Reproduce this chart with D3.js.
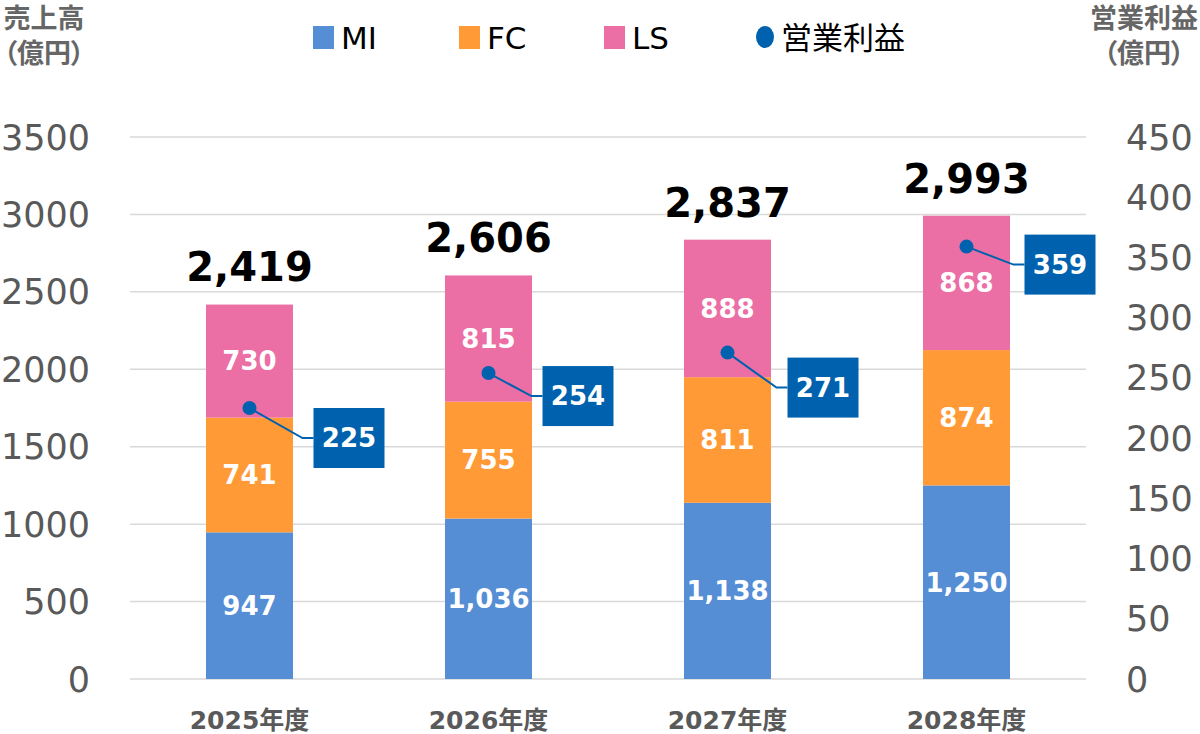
<!DOCTYPE html>
<html>
<head>
<meta charset="utf-8">
<script src="https://cdn.jsdelivr.net/npm/d3@7"></script>
<style>
  body { margin: 0; background: #fff; }
  svg { display: block; font-family: "DejaVu Sans", "Noto Sans CJK JP", sans-serif; }
  .axis-title { font-feature-settings: "palt"; }
</style>
</head>
<body>
<div id="chart"></div>
<script>
// data
const years = ['2025年度', '2026年度', '2027年度', '2028年度'];
const seriesNames = ['MI', 'FC', 'LS'];
const miValues = [947, 1036, 1138, 1250];
const fcValues = [741, 755, 811, 874];
const lsValues = [730, 815, 888, 868];
const totals = [2419, 2606, 2837, 2993];
const profit = [225, 254, 271, 359];
const profitName = '営業利益';
const leftTicks = [0, 500, 1000, 1500, 2000, 2500, 3000, 3500];
const rightTicks = [0, 50, 100, 150, 200, 250, 300, 350, 400, 450];

// label box offsets (layout only)
const profitLabelOffsets = [[64, 30], [54, 23], [60, 35], [58, 18]];

const colors = { MI: '#558ED5', FC: '#FF9A36', LS: '#EB6EA5', profit: '#0062AE' };

const width = 1200;
const height = 734;
const svg = d3.select('#chart')
    .append('svg')
    .attr('width', width)
    .attr('height', height)
    .attr('viewBox', [0, 0, width, height]);

const x = d3.scaleBand()
    .domain(years)
    .range([130, 1086])
    .paddingInner(0.636)
    .paddingOuter(0.318);

const yLeft = d3.scaleLinear().domain([0, 3500]).range([679, 137]);
const yRight = d3.scaleLinear().domain([0, 450]).range([679, 137]);

// gridlines
svg.append('g')
    .selectAll('line')
    .data(leftTicks)
    .join('line')
        .attr('x1', 130)
        .attr('x2', 1086)
        .attr('y1', d => yLeft(d))
        .attr('y2', d => yLeft(d))
        .attr('stroke', '#d9d9d9')
        .attr('stroke-width', 1.5);

// left axis labels
svg.append('g')
    .selectAll('text')
    .data(leftTicks)
    .join('text')
        .attr('x', 90)
        .attr('y', d => yLeft(d))
        .attr('dy', '0.36em')
        .attr('text-anchor', 'end')
        .attr('fill', '#595959')
        .style('font-size', '35px')
        .text(d => d);

// right axis labels
svg.append('g')
    .selectAll('text')
    .data(rightTicks)
    .join('text')
        .attr('x', 1126)
        .attr('y', d => yRight(d))
        .attr('dy', '0.36em')
        .attr('text-anchor', 'start')
        .attr('fill', '#595959')
        .style('font-size', '35px')
        .text(d => d);

// axis titles
const titles = [
    { x: 44, lines: ['売上高', '（億円）'] },
    { x: 1144, lines: ['営業利益', '（億円）'] }
];
titles.forEach(t => {
    t.lines.forEach((line, i) => {
        svg.append('text')
            .attr('class', 'axis-title')
            .attr('x', t.x)
            .attr('y', 28 + i * 35)
            .attr('text-anchor', 'middle')
            .attr('fill', '#666666')
            .style('font-size', '27px')
            .style('font-weight', 700)
            .text(line);
    });
});

// stacked bars
const table = years.map((year, i) => ({ year, MI: miValues[i], FC: fcValues[i], LS: lsValues[i] }));
const stacked = d3.stack().keys(seriesNames)(table);

const layers = svg.append('g')
    .selectAll('g')
    .data(stacked)
    .join('g')
        .attr('fill', d => colors[d.key]);

layers.selectAll('rect')
    .data(d => d)
    .join('rect')
        .attr('x', d => x(d.data.year))
        .attr('width', x.bandwidth())
        .attr('y', d => yLeft(d[1]))
        .attr('height', d => yLeft(d[0]) - yLeft(d[1]));

layers.selectAll('text')
    .data(d => d.map(v => ({ v, key: d.key })))
    .join('text')
        .attr('x', d => x(d.v.data.year) + x.bandwidth() / 2)
        .attr('y', d => yLeft((d.v[0] + d.v[1]) / 2))
        .attr('dy', '0.36em')
        .attr('text-anchor', 'middle')
        .attr('fill', 'white')
        .style('font-size', '26px')
        .style('font-weight', 700)
        .text(d => d3.format(',')(d.v.data[d.key]));

// totals
svg.append('g')
    .selectAll('text')
    .data(totals)
    .join('text')
        .attr('x', (d, i) => x(years[i]) + x.bandwidth() / 2)
        .attr('y', d => yLeft(d) - 23)
        .attr('text-anchor', 'middle')
        .attr('fill', '#000')
        .style('font-size', '40px')
        .style('font-weight', 700)
        .text(d => d3.format(',')(d));

// operating profit points + labels
const pg = svg.append('g');
profit.forEach((p, i) => {
    const cx = x(years[i]) + x.bandwidth() / 2;
    const cy = yRight(p);
    const boxX = cx + profitLabelOffsets[i][0];
    const boxCy = cy + profitLabelOffsets[i][1];
    pg.append('path')
        .attr('d', `M${cx},${cy}L${boxX - 11},${boxCy}L${boxX},${boxCy}`)
        .attr('fill', 'none')
        .attr('stroke', colors.profit)
        .attr('stroke-width', 2);
    pg.append('circle')
        .attr('cx', cx)
        .attr('cy', cy)
        .attr('r', 7)
        .attr('fill', colors.profit);
    pg.append('rect')
        .attr('x', boxX)
        .attr('y', boxCy - 30)
        .attr('width', 71)
        .attr('height', 60)
        .attr('fill', colors.profit);
    pg.append('text')
        .attr('x', boxX + 35.5)
        .attr('y', boxCy)
        .attr('dy', '0.36em')
        .attr('text-anchor', 'middle')
        .attr('fill', 'white')
        .style('font-size', '26px')
        .style('font-weight', 700)
        .text(p);
});

// x axis labels
svg.append('g')
    .selectAll('text')
    .data(years)
    .join('text')
        .attr('x', d => x(d) + x.bandwidth() / 2)
        .attr('y', 729)
        .attr('text-anchor', 'middle')
        .attr('fill', '#595959')
        .style('font-size', '25px')
        .style('font-weight', 700)
        .text(d => d);

// legend
const legendItems = [
    { name: seriesNames[0], color: colors.MI, x: 313, type: 'rect' },
    { name: seriesNames[1], color: colors.FC, x: 459, type: 'rect' },
    { name: seriesNames[2], color: colors.LS, x: 604, type: 'rect' },
    { name: profitName, color: colors.profit, x: 756, type: 'circle' }
];
const legend = svg.append('g');
legendItems.forEach(item => {
    if (item.type === 'rect') {
        legend.append('rect')
            .attr('x', item.x)
            .attr('y', 26)
            .attr('width', 21)
            .attr('height', 23)
            .attr('fill', item.color);
    } else {
        legend.append('ellipse')
            .attr('cx', item.x + 9)
            .attr('cy', 37)
            .attr('rx', 9)
            .attr('ry', 11)
            .attr('fill', item.color);
    }
    legend.append('text')
        .attr('x', item.x + (item.type === 'rect' ? 28 : 25))
        .attr('y', 49)
        .attr('fill', '#000')
        .style('font-size', '31px')
        .text(item.name);
});
</script>
</body>
</html>
